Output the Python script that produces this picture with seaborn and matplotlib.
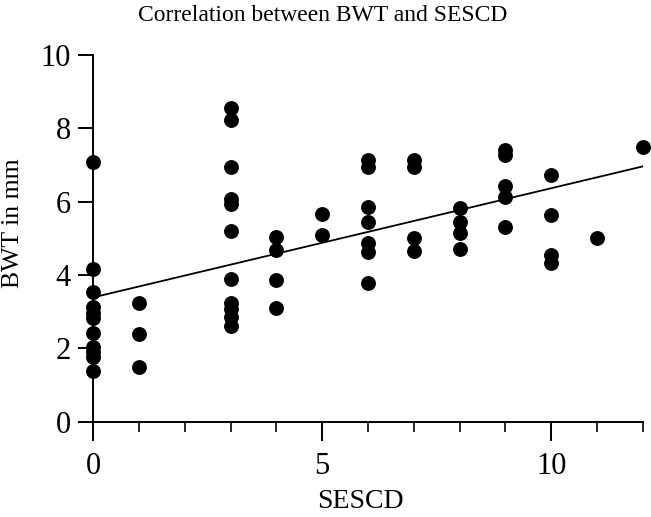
import matplotlib
matplotlib.use("Agg")
import matplotlib.pyplot as plt
import seaborn as sns
import pandas as pd
from matplotlib.ticker import MultipleLocator

sescd = [0]*11 + [1]*3 + [3]*11 + [4]*4 + [5]*2 + [6]*7 + [7]*4 + [8]*4 + [9]*5 + [10]*4 + [11] + [12]
bwt = [7.09, 4.17, 3.55, 3.14, 2.96, 2.83, 2.43, 2.05, 1.91, 1.77, 1.38,
       3.23, 2.39, 1.48,
       8.55, 8.23, 6.94, 6.07, 5.94, 5.21, 3.88, 3.23, 3.07, 2.85, 2.61,
       5.04, 4.68, 3.86, 3.09,
       5.66, 5.09,
       7.14, 6.95, 5.86, 5.45, 4.88, 4.64, 3.77,
       7.14, 6.94, 5.00, 4.66,
       5.82, 5.45, 5.15, 4.70,
       7.41, 7.27, 6.43, 6.14, 5.30,
       6.73, 5.63, 4.55, 4.32,
       5.00,
       7.48]

df = pd.DataFrame({"SESCD": sescd, "BWT": bwt})

sns.set_theme(style="ticks")
plt.rcParams["font.family"] = ["Liberation Serif", "DejaVu Serif"]

fig = plt.figure(figsize=(6.51, 5.17), dpi=100)
ax = fig.add_axes([93/651, 1-421.7/517, 550/651, (421.7-55)/517])

sns.regplot(data=df, x="SESCD", y="BWT", ax=ax, ci=None, color="black",
            scatter_kws={"s": 115, "clip_on": False, "linewidths": 0, "alpha": 1},
            line_kws={"linewidth": 1.3, "color": "black"})

ax.set_xlim(0, 12)
ax.set_ylim(0, 10)
ax.xaxis.set_major_locator(MultipleLocator(5))
ax.xaxis.set_minor_locator(MultipleLocator(1))
ax.yaxis.set_major_locator(MultipleLocator(2))
for s in ["top", "right"]:
    ax.spines[s].set_visible(False)
for s in ["left", "bottom"]:
    ax.spines[s].set_linewidth(1.4)
    ax.spines[s].set_color("black")
ax.tick_params(axis="x", which="major", length=13.5, width=1.4, pad=8, labelsize=22, colors="black")
ax.tick_params(axis="x", which="minor", length=7.2, width=1.4)
ax.tick_params(axis="y", which="major", length=10.8, width=1.4, pad=5, labelsize=22, colors="black")

ax.set_xlabel("SESCD", fontsize=20, color="black")
ax.set_ylabel("BWT in mm", fontsize=18.5, color="black")
ax.xaxis.set_label_coords(0.487, -0.183)
ax.yaxis.set_label_coords(-0.125, 0.54)
fig.suptitle("Correlation between BWT and SESCD", fontsize=17, x=0.495, y=0.99, color="black")

fig.savefig("out.png", dpi=100)
